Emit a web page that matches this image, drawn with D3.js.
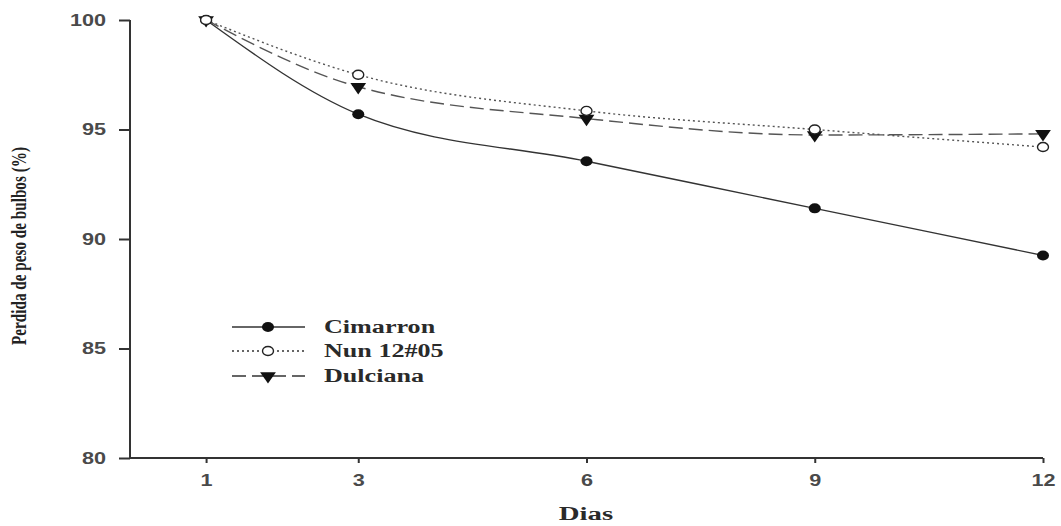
<!DOCTYPE html>
<html><head><meta charset="utf-8">
<script src="https://cdn.jsdelivr.net/npm/d3@7"></script>
<style>body{margin:0;background:#fff}</style>
</head><body>
<svg id="c" width="1061" height="526"></svg>
<script>
const days = [1, 3, 6, 9, 12];
const cimarron = [100, 95.7, 93.55, 91.4, 89.25];
const nun = [100, 97.5, 95.85, 95.0, 94.2];
const dulciana = [100, 96.95, 95.5, 94.75, 94.8];
const seriesNames = ["Cimarron", "Nun 12#05", "Dulciana"];
const yTicks = [80, 85, 90, 95, 100];
const xTicks = [1, 3, 6, 9, 12];

const svg = d3.select("#c");
const x = d3.scaleLinear().domain([0, 12]).range([130, 1043]);
const y = d3.scaleLinear().domain([80, 100]).range([458, 20]);

// horizontal stretch helper (reference image is stretched horizontally)
function stretch(sel, f) {
  sel.each(function() {
    const w = this.getComputedTextLength();
    d3.select(this).attr("textLength", w * f).attr("lengthAdjust", "spacingAndGlyphs");
  });
}

const yAxis = svg.append("g").attr("transform", "translate(130,0)")
  .call(d3.axisLeft(y).tickValues(yTicks).tickSize(11).tickPadding(13).tickSizeOuter(0));
const xAxis = svg.append("g").attr("transform", "translate(0,458)")
  .call(d3.axisBottom(x).tickValues(xTicks).tickSize(5).tickPadding(12).tickSizeOuter(0));
[yAxis, xAxis].forEach(a => {
  a.select(".domain").attr("stroke", "#333").attr("stroke-width", 2);
  a.selectAll(".tick line").attr("stroke", "#333").attr("stroke-width", 2);
  a.selectAll(".tick text").attr("font-family", "Liberation Sans, Arial, sans-serif")
    .attr("font-size", 16).attr("font-weight", "bold").attr("fill", "#4a4a4a");
  stretch(a.selectAll(".tick text"), 1.35);
});
yAxis.select(".domain").attr("d", "M0,458V20");
xAxis.select(".domain").attr("d", "M130,0H1043");

const serif = "Liberation Serif, Times New Roman, serif";
const dias = svg.append("text").attr("x", 586).attr("y", 520).attr("text-anchor", "middle")
  .attr("font-family", serif).attr("font-size", 18).attr("font-weight", "bold")
  .attr("fill", "#2a2a2a").text("Dias");
stretch(dias, 1.6);

svg.append("text").attr("transform", "translate(26,246) rotate(-90) scale(1,1.4)")
  .attr("text-anchor", "middle")
  .attr("font-family", serif).attr("font-size", 15).attr("font-weight", "bold")
  .attr("fill", "#222")
  .attr("textLength", 198).attr("lengthAdjust", "spacingAndGlyphs")
  .text("Perdida de peso de bulbos (%)");

const data = [cimarron, nun, dulciana];
const dashes = [null, "2,3", "14,6"];
const line = d3.line().x((d, i) => x(days[i])).y(d => y(d)).curve(d3.curveMonotoneX);

data.forEach((s, k) => {
  svg.append("path").datum(s).attr("d", line).attr("fill", "none")
    .attr("stroke", k === 0 ? "#333" : "#555").attr("stroke-width", 1.4)
    .attr("stroke-dasharray", dashes[k]);
});

const tri = d3.symbol().type(d3.symbolTriangle).size(75);
function marker(g, k, cx, cy) {
  if (k === 0) g.append("ellipse").attr("cx", cx).attr("cy", cy).attr("rx", 6).attr("ry", 5).attr("fill", "#111");
  else if (k === 1) g.append("ellipse").attr("cx", cx).attr("cy", cy).attr("rx", 5.5).attr("ry", 4.5)
    .attr("fill", "#fff").attr("stroke", "#222").attr("stroke-width", 1.4);
  else g.append("path").attr("d", tri).attr("transform", `translate(${cx},${cy}) rotate(180) scale(1.2,1)`).attr("fill", "#111");
}
[2, 0, 1].forEach(k => {
  const g = svg.append("g");
  data[k].forEach((v, i) => marker(g, k, x(days[i]), y(v)));
});

const legY = [327, 351, 376];
seriesNames.forEach((n, k) => {
  const g = svg.append("g");
  g.append("line").attr("x1", 232).attr("x2", 305).attr("y1", legY[k]).attr("y2", legY[k])
    .attr("stroke", "#333").attr("stroke-width", 1.4).attr("stroke-dasharray", dashes[k]);
  marker(g, k, 268, legY[k]);
  const t = g.append("text").attr("x", 324).attr("y", legY[k] + 6)
    .attr("font-family", serif).attr("font-size", 18).attr("font-weight", "bold")
    .attr("fill", "#2a2a2a").text(n);
  stretch(t, 1.45);
});
</script>
</body></html>
